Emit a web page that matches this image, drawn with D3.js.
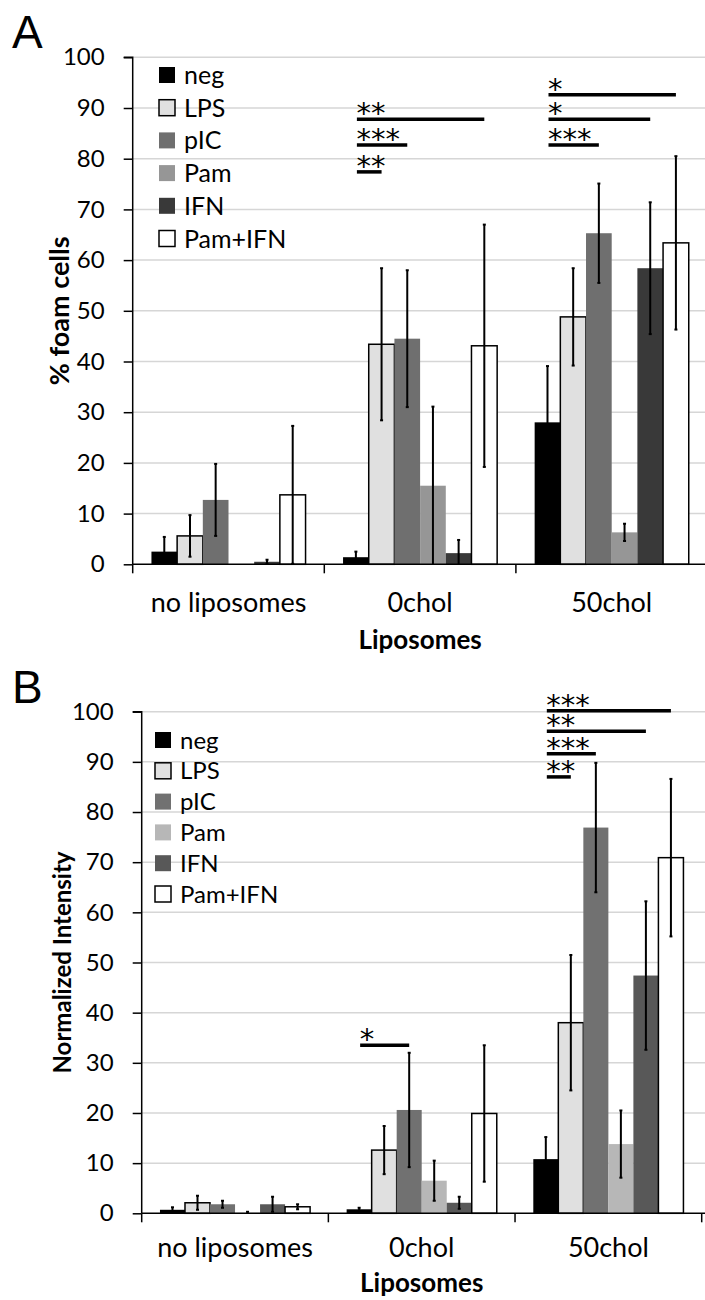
<!DOCTYPE html>
<html>
<head>
<meta charset="utf-8">
<script src="https://cdn.jsdelivr.net/npm/d3@7"></script>
<style>
  body { margin: 0; background: #fff; }
  text { font-family: Lato, "Open Sans", sans-serif; fill: #000; }
</style>
</head>
<body>
<div id="chart"></div>
<script>
// ---------------- data ----------------
const categories = ["no liposomes", "0chol", "50chol"];
const seriesNames = ["neg", "LPS", "pIC", "Pam", "IFN", "Pam+IFN"];
const yTicks = [0, 10, 20, 30, 40, 50, 60, 70, 80, 90, 100];

// panel A: % foam cells, one row per category, one column per series
const foamMean = [
    [2.5, 5.6, 12.7, 0, 0.5, 13.7],
    [1.4, 43.4, 44.5, 15.5, 2.2, 43.1],
    [28.0, 48.8, 65.3, 6.3, 58.4, 63.4]
];
const foamErr = [
    [2.9, 4.1, 7.1, 0, 0.4, 13.6],
    [1.1, 15.0, 13.5, 15.6, 2.6, 23.9],
    [11.1, 9.6, 9.8, 1.7, 13.0, 17.1]
];
// [category, from series, to series, level, label]
const foamSig = [
    [1, 0, 5, 87.8, "**"],
    [1, 0, 2, 82.7, "***"],
    [1, 0, 1, 77.4, "**"],
    [2, 0, 5, 92.6, "*"],
    [2, 0, 4, 87.8, "*"],
    [2, 0, 2, 82.7, "***"]
];

// panel B: normalized intensity
const intMean = [
    [0.7, 2.1, 1.8, 0.1, 1.8, 1.3],
    [0.8, 12.6, 20.6, 6.5, 2.1, 19.9],
    [10.8, 38.0, 76.9, 13.8, 47.4, 70.9]
];
const intErr = [
    [0.5, 1.4, 0.7, 0.2, 1.5, 0.5],
    [0.3, 4.8, 11.4, 4.0, 1.2, 13.6],
    [4.4, 13.5, 12.9, 6.7, 14.8, 15.7]
];
const intSig = [
    [1, 0, 2, 33.5, "*"],
    [2, 0, 5, 100.2, "***"],
    [2, 0, 4, 96.1, "**"],
    [2, 0, 2, 91.6, "***"],
    [2, 0, 1, 87.0, "**"]
];

const coloursA = ["#000000", "#e0e0e0", "#6f6f6f", "#969696", "#393939", "#ffffff"];
const coloursB = ["#000000", "#e0e0e0", "#717171", "#b7b7b7", "#585858", "#ffffff"];
const outlined = ["LPS", "Pam+IFN"];

// ---------------- drawing ----------------
const svg = d3.select("#chart").append("svg")
    .attr("width", 705)
    .attr("height", 1300);

function drawPanel(p) {
    const g = svg.append("g");

    const x = d3.scaleBand().domain(categories).range([p.left, p.right]);
    const xs = d3.scaleBand().domain(seriesNames).range([0, x.bandwidth()])
        .paddingInner(0).paddingOuter(0.73);
    const y = d3.scaleLinear().domain([0, 100]).range([p.bottom, p.top]);

    // gridlines
    g.append("g").selectAll("line").data(yTicks.slice(1)).join("line")
        .attr("x1", p.left).attr("x2", 705)
        .attr("y1", d => y(d)).attr("y2", d => y(d))
        .attr("stroke", "#d6d6d6").attr("stroke-width", 1.5);

    // y axis
    const yAxis = g.append("g")
        .attr("transform", `translate(${p.left},0)`)
        .call(d3.axisLeft(y).tickValues(yTicks).tickSize(9).tickPadding(19));
    yAxis.select(".domain").attr("stroke", "#000").attr("stroke-width", 1.5)
        .attr("d", `M-9,${y(100)}H0V${y(0)}`);
    yAxis.selectAll(".tick line").attr("stroke", "#000").attr("stroke-width", 1.5);
    yAxis.selectAll(".tick text").attr("font-size", p.tickSize + "px")
        .style("font-family", "Lato");

    // bars
    const cells = [];
    categories.forEach((c, ci) => seriesNames.forEach((s, si) => {
        cells.push({c, s, si, v: p.mean[ci][si], e: p.err[ci][si]});
    }));
    g.append("g").selectAll("rect").data(cells.filter(d => d.v > 0)).join("rect")
        .attr("x", d => x(d.c) + xs(d.s))
        .attr("width", xs.bandwidth())
        .attr("y", d => y(d.v))
        .attr("height", d => y(0) - y(d.v))
        .attr("fill", d => p.colours[d.si])
        .attr("stroke", d => outlined.includes(d.s) ? "#000" : "none")
        .attr("stroke-width", 1.5);

    // x axis
    g.append("line")
        .attr("x1", p.left).attr("x2", 705)
        .attr("y1", y(0)).attr("y2", y(0))
        .attr("stroke", "#000").attr("stroke-width", 1.5);
    const bounds = categories.map(c => x(c)).concat([p.right]);
    g.append("g").selectAll("line").data(bounds).join("line")
        .attr("x1", d => d).attr("x2", d => d)
        .attr("y1", y(0)).attr("y2", y(0) + 9)
        .attr("stroke", "#000").attr("stroke-width", 1.5);

    // error bars
    const eb = g.append("g").selectAll("g").data(cells.filter(d => d.e > 0)).join("g")
        .attr("transform", d => `translate(${x(d.c) + xs(d.s) + xs.bandwidth() / 2},0)`);
    eb.append("line")
        .attr("y1", d => y(Math.min(100, d.v + d.e)))
        .attr("y2", d => y(Math.max(0, d.v - d.e)))
        .attr("stroke", "#000").attr("stroke-width", 2);
    eb.selectAll("line.cap").data(d => [d.v + d.e, d.v - d.e].filter(v => v > 0)).join("line")
        .attr("class", "cap")
        .attr("x1", -1.5).attr("x2", 1.5)
        .attr("y1", d => y(d)).attr("y2", d => y(d))
        .attr("stroke", "#000").attr("stroke-width", 2);

    // significance bars
    const center = (ci, si) => x(categories[ci]) + xs(seriesNames[si]) + xs.bandwidth() / 2;
    const sg = g.append("g").selectAll("g").data(p.sig).join("g");
    sg.append("line")
        .attr("x1", d => center(d[0], d[1]) + 1)
        .attr("x2", d => center(d[0], d[2]))
        .attr("y1", d => y(d[3])).attr("y2", d => y(d[3]))
        .attr("stroke", "#000").attr("stroke-width", 3.5);
    sg.append("text")
        .attr("x", d => center(d[0], d[1]) + 0.5)
        .attr("y", d => y(d[3]) + 4)
        .style("font-family", "'DejaVu Sans', sans-serif")
        .attr("font-size", "29px")
        .text(d => d[4]);

    // category labels
    g.append("g").selectAll("text").data(categories).join("text")
        .attr("x", d => x(d) + x.bandwidth() / 2)
        .attr("y", p.catY)
        .attr("text-anchor", "middle")
        .attr("font-size", p.catSize + "px")
        .text(d => d);

    g.append("text")
        .attr("x", (p.left + p.right) / 2)
        .attr("y", p.titleY)
        .attr("text-anchor", "middle")
        .attr("font-weight", "bold")
        .attr("font-size", "26px")
        .text("Liposomes");

    g.append("text")
        .attr("transform", `translate(${p.yLabelX},${(p.top + p.bottom) / 2}) rotate(-90)`)
        .attr("text-anchor", "middle")
        .attr("font-weight", "bold")
        .attr("font-size", p.yLabelSize + "px")
        .text(p.yLabel);

    // legend
    const lg = g.append("g").selectAll("g").data(seriesNames).join("g")
        .attr("transform", (d, i) => `translate(${p.legendX},${p.legendY + i * p.legendStep})`);
    lg.append("rect")
        .attr("x", 0).attr("y", -8).attr("width", p.legendBox).attr("height", p.legendBox)
        .attr("fill", (d, i) => p.colours[i])
        .attr("stroke", d => outlined.includes(d) ? "#000" : "none")
        .attr("stroke-width", 1.5);
    lg.append("text")
        .attr("x", p.legendBox + 9)
        .attr("y", 0)
        .attr("dy", "0.36em")
        .attr("font-size", p.legendSize + "px")
        .text(d => d);

    // panel letter
    g.append("text")
        .attr("x", p.letterX).attr("y", p.letterY)
        .style("font-family", "'Liberation Sans', Arial, sans-serif")
        .attr("font-size", "46px")
        .text(p.letter);
}

drawPanel({
    letter: "A", letterX: 12, letterY: 48,
    left: 132.7, right: 707.5, top: 57.3, bottom: 564.3,
    mean: foamMean, err: foamErr, sig: foamSig, colours: coloursA,
    tickSize: 24, catSize: 27, catY: 612, titleY: 649,
    yLabel: "% foam cells", yLabelX: 69, yLabelSize: 27,
    legendX: 159, legendY: 75, legendStep: 32.7, legendBox: 16, legendSize: 25
});

drawPanel({
    letter: "B", letterX: 12, letterY: 703,
    left: 141.7, right: 701.7, top: 711.7, bottom: 1213.3,
    mean: intMean, err: intErr, sig: intSig, colours: coloursB,
    tickSize: 24, catSize: 27, catY: 1257, titleY: 1292,
    yLabel: "Normalized Intensity", yLabelX: 71, yLabelSize: 24,
    legendX: 155, legendY: 740, legendStep: 30.8, legendBox: 16, legendSize: 24
});
</script>
</body>
</html>
